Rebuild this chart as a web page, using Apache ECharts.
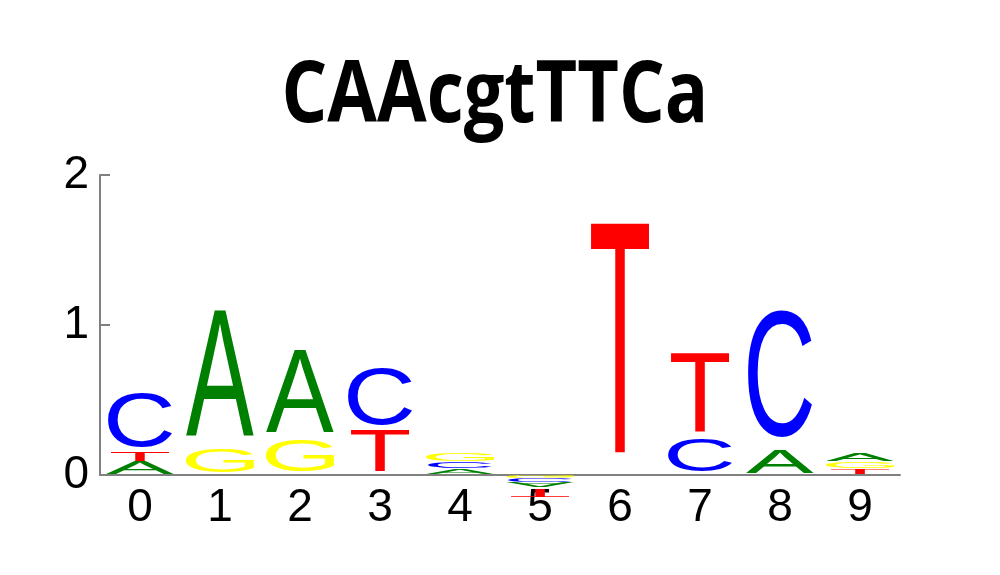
<!DOCTYPE html>
<html>
<head>
<meta charset="utf-8">
<script src="https://cdn.jsdelivr.net/npm/echarts@6/dist/echarts.min.js"></script>
<style>
  html, body { margin: 0; padding: 0; background: #fff; }
  #main { width: 1000px; height: 575px; }
</style>
</head>
<body>
<div id="main"></div>
<script>
// motif positions
var positions = ['0', '1', '2', '3', '4', '5', '6', '7', '8', '9'];
// letter heights (bits) per position, negative = drawn below the axis
var heightA = [0.09, 0.93, 0.60, 0, 0.04, -0.04, 0, 0, 0.17, 0.055];
var heightC = [0.395, 0, 0, 0.41, 0.045, -0.03, 0, 0.24, 0.93, 0];
var heightG = [0, 0.17, 0.23, 0, 0.055, -0.015, 0, 0, 0, 0.045];
var heightT = [0.065, 0, 0, 0.30, 0, -0.06, 1.69, 0.58, 0, 0.04];
// stacking order, from the axis outward
var stackOrder = ['ATC', 'GA', 'GA', 'TC', 'ACG', 'GCAT', 'T', 'CT', 'AC', 'TGA'];
var yTicks = [0, 1, 2];
var titleText = 'CAAcgtTTCa';

// styles
var colors = { A: '#008000', C: '#0000ff', G: '#ffff00', T: '#ff0000' };
var inkWidth = { A: 0.85, C: 0.80, G: 0.85, T: 0.73 }; // share of the column
var basePad = 0.09; // space under the glyph baseline, share of letter height
var glyphFont = '200px "Liberation Sans"';
var titleFont = 'bold 100px "Open Sans"';
var labelFont = 'Liberation Sans';

var ctx = document.createElement('canvas').getContext('2d');
function ink(font, text, baseline) {
  ctx.font = font;
  ctx.textAlign = 'left';
  ctx.textBaseline = baseline || 'middle';
  var m = ctx.measureText(text);
  return { l: m.actualBoundingBoxLeft, r: m.actualBoundingBoxRight, a: m.actualBoundingBoxAscent, d: m.actualBoundingBoxDescent };
}

// stack the letters
var heights = { A: heightA, C: heightC, G: heightG, T: heightT };
var letterData = { A: [], C: [], G: [], T: [] };
positions.forEach(function (p, i) {
  var up = 0, down = 0;
  stackOrder[i].split('').forEach(function (ch) {
    var h = heights[ch][i];
    if (!h) return;
    if (h > 0) { letterData[ch].push([i, up, up + h]); up += h; }
    else { letterData[ch].push([i, down, down + h]); down += h; }
  });
});

// each glyph stretched to its box, flipped when negative
function makeRender(ch) {
  var m = ink(glyphFont, ch);
  return function (params, api) {
    var i = api.value(0);
    var p0 = api.coord([i, api.value(1)]);
    var p1 = api.coord([i, api.value(2)]);
    var band = api.size([1, 0])[0];
    var w = band * inkWidth[ch];
    var hpx = Math.abs(p1[1] - p0[1]);
    if (hpx < 0.5) return;
    var flip = p1[1] > p0[1];
    var yTop, yBot;
    if (!flip) { yTop = p1[1]; yBot = p0[1] - basePad * hpx; }
    else { yTop = p0[1] + basePad * hpx; yBot = p1[1]; }
    var sx = w / (m.l + m.r);
    var sy = (yBot - yTop) / (m.a + m.d);
    return {
      type: 'text',
      x: p0[0] - w / 2 + m.l * sx,
      y: flip ? yBot - m.a * sy : yTop + m.a * sy,
      scaleX: sx,
      scaleY: flip ? -sy : sy,
      style: {
        text: ch, x: 0, y: 0, font: glyphFont, fill: colors[ch],
        align: 'left', verticalAlign: 'middle',
        textAlign: 'left', textVerticalAlign: 'middle'
      }
    };
  };
}

// title squeezed to the reference width
var tm = ink(titleFont, titleText);
var capTop = ink(titleFont, 'H').a;
var capH = ink(titleFont, 'H', 'alphabetic').a;
var tsy = 62 / capH;
var tsx = 418 / (tm.l + tm.r);

var chart = echarts.init(document.getElementById('main'));
var option = {
  animation: false,
  grid: { left: 100, right: 100, top: 175, bottom: 100 },
  graphic: [{
    type: 'text',
    x: 285 + tm.l * tsx,
    y: 60 + capTop * tsy,
    scaleX: tsx,
    scaleY: tsy,
    style: {
      text: titleText, x: 0, y: 0, font: titleFont, fill: '#000',
      align: 'left', verticalAlign: 'middle',
      textAlign: 'left', textVerticalAlign: 'middle'
    }
  }],
  xAxis: {
    type: 'category',
    data: positions,
    axisLine: { lineStyle: { color: '#808080', width: 2 } },
    axisTick: { show: false },
    splitLine: { show: false },
    axisLabel: { fontFamily: labelFont, fontSize: 46, color: '#000', margin: 10 }
  },
  yAxis: {
    type: 'value',
    min: 0,
    max: 2,
    interval: 1,
    axisLine: { show: true, lineStyle: { color: '#808080', width: 2 } },
    axisTick: { show: true, inside: true, length: 10, lineStyle: { color: '#808080', width: 2 } },
    splitLine: { show: false },
    axisLabel: {
      fontFamily: labelFont, fontSize: 46, color: '#000', margin: 11,
      formatter: function (v) { return yTicks.indexOf(v) >= 0 ? String(v) : ''; }
    }
  },
  series: ['A', 'C', 'G', 'T'].map(function (ch) {
    return {
      type: 'custom',
      name: ch,
      data: letterData[ch],
      encode: { x: 0, y: [1, 2] },
      renderItem: makeRender(ch),
      clip: false,
      silent: true
    };
  })
};
chart.setOption(option);
</script>
</body>
</html>
